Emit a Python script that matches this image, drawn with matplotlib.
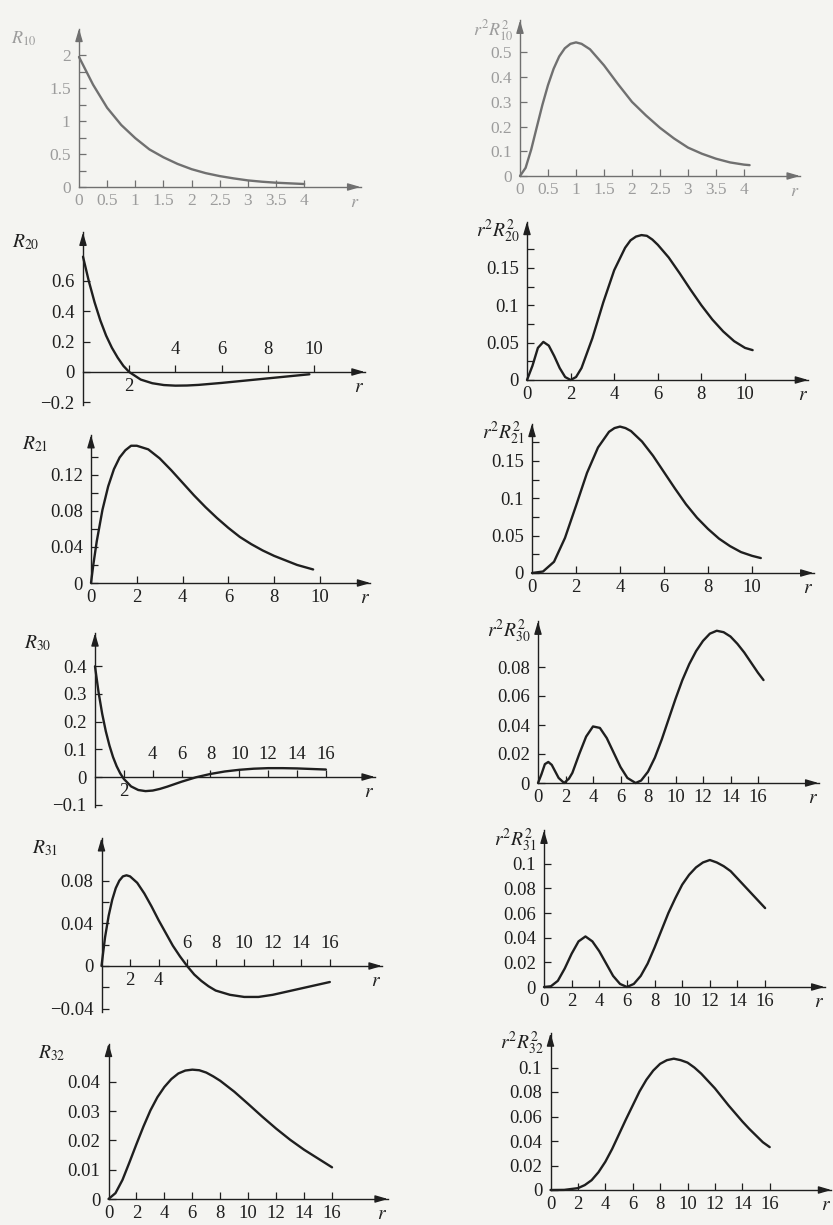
import matplotlib.pyplot as plt

W, H = 833, 1225
BG = '#f4f4f1'
INK = '#1f1f1f'
FADED = '#707070'
FADED_TXT = '#9c9c9c'

plt.rcParams['font.family'] = ['Liberation Serif', 'DejaVu Serif']
plt.rcParams['mathtext.fontset'] = 'stix'

# values
r_10 = [0, 0.25, 0.5, 0.75, 1, 1.25, 1.5, 1.75, 2, 2.25, 2.5, 2.75, 3, 3.25, 3.5, 3.75, 4]
R_10 = [1.97, 1.55, 1.2, 0.94, 0.74, 0.57, 0.45, 0.35, 0.27, 0.21, 0.165, 0.13, 0.1, 0.08, 0.065, 0.055, 0.045]

r_p10 = [0, 0.1, 0.2, 0.3, 0.4, 0.5, 0.6, 0.7, 0.8, 0.9, 1.0, 1.1, 1.25, 1.5, 1.75, 2, 2.25, 2.5,
         2.75, 3, 3.25, 3.5, 3.75, 4, 4.1]
P_10 = [0, 0.033, 0.107, 0.198, 0.288, 0.368, 0.434, 0.484, 0.517, 0.535, 0.541, 0.535, 0.513, 0.448,
        0.372, 0.300, 0.245, 0.195, 0.152, 0.115, 0.090, 0.070, 0.055, 0.046, 0.044]

r_20 = [0, 0.25, 0.5, 0.75, 1, 1.25, 1.5, 1.75, 2, 2.5, 3, 3.5, 4, 4.5, 5, 6, 7, 8, 9, 9.8]
R_20 = [0.76, 0.6, 0.46, 0.34, 0.24, 0.16, 0.095, 0.04, 0.0, -0.05, -0.074, -0.086, -0.09, -0.089,
        -0.085, -0.072, -0.057, -0.042, -0.027, -0.015]

r_p20 = [0, 0.25, 0.5, 0.75, 1, 1.25, 1.5, 1.75, 2, 2.25, 2.5, 3, 3.5, 4, 4.5, 4.75, 5, 5.25, 5.5,
         5.75, 6, 6.5, 7, 7.5, 8, 8.5, 9, 9.5, 10, 10.35]
P_20 = [0, 0.019, 0.043, 0.051, 0.046, 0.032, 0.016, 0.004, 0, 0.004, 0.016, 0.056, 0.104, 0.147,
        0.177, 0.187, 0.192, 0.194, 0.193, 0.188, 0.181, 0.164, 0.143, 0.121, 0.1, 0.081, 0.065,
        0.052, 0.043, 0.04]

r_21 = [0, 0.1, 0.25, 0.5, 0.75, 1, 1.25, 1.5, 1.75, 2, 2.5, 3, 3.5, 4, 4.5, 5, 5.5, 6, 6.5, 7, 7.5,
        8, 8.5, 9, 9.7]
R_21 = [0, 0.02, 0.046, 0.081, 0.107, 0.126, 0.139, 0.147, 0.152, 0.152, 0.148, 0.138, 0.125, 0.111,
        0.097, 0.084, 0.072, 0.061, 0.051, 0.043, 0.036, 0.03, 0.025, 0.02, 0.015]

r_p21 = [0, 0.5, 1, 1.5, 2, 2.5, 3, 3.5, 3.75, 4, 4.25, 4.5, 5, 5.5, 6, 6.5, 7, 7.5, 8, 8.5, 9, 9.5,
         10, 10.4]
P_21 = [0, 0.002, 0.015, 0.047, 0.09, 0.134, 0.168, 0.189, 0.194, 0.196, 0.194, 0.19, 0.176, 0.157,
        0.135, 0.113, 0.092, 0.074, 0.059, 0.046, 0.036, 0.028, 0.023, 0.02]

r_30 = [0, 0.25, 0.5, 0.75, 1, 1.25, 1.5, 1.75, 2, 2.5, 3, 3.5, 4, 4.5, 5, 6, 7, 8, 9, 10, 11, 12,
        13, 14, 15, 16]
R_30 = [0.4, 0.305, 0.228, 0.165, 0.114, 0.072, 0.039, 0.013, -0.007, -0.034, -0.047, -0.051, -0.049,
        -0.043, -0.035, -0.017, -0.001, 0.011, 0.02, 0.026, 0.03, 0.032, 0.032, 0.031, 0.029, 0.027]

r_p30 = [0, 0.25, 0.5, 0.75, 1, 1.25, 1.5, 1.9, 2.25, 2.5, 3, 3.5, 4, 4.5, 5, 5.5, 6, 6.5, 7.1, 7.5,
         8, 8.5, 9, 9.5, 10, 10.5, 11, 11.5, 12, 12.5, 13, 13.5, 14, 14.5, 15, 15.5, 16, 16.4]
P_30 = [0, 0.006, 0.013, 0.0145, 0.0125, 0.008, 0.0035, 0, 0.003, 0.007, 0.02, 0.032, 0.039, 0.038,
        0.031, 0.021, 0.011, 0.0035, 0, 0.0017, 0.0078, 0.0175, 0.03, 0.044, 0.058, 0.071, 0.082,
        0.091, 0.098, 0.103, 0.105, 0.104, 0.101, 0.096, 0.09, 0.083, 0.076, 0.071]

r_31 = [0, 0.25, 0.5, 0.75, 1, 1.25, 1.5, 1.75, 2, 2.5, 3, 3.5, 4, 4.5, 5, 5.5, 6, 6.5, 7, 7.5, 8, 9,
        10, 11, 12, 13, 14, 15, 16]
R_31 = [0, 0.027, 0.047, 0.062, 0.073, 0.08, 0.084, 0.085, 0.084, 0.078, 0.068, 0.056, 0.043, 0.031,
        0.019, 0.009, 0, -0.008, -0.014, -0.019, -0.023, -0.027, -0.029, -0.029, -0.027, -0.024,
        -0.021, -0.018, -0.015]

r_p31 = [0, 0.5, 1, 1.5, 2, 2.5, 3, 3.5, 4, 4.5, 5, 5.5, 6, 6.5, 7, 7.5, 8, 8.5, 9, 9.5, 10, 10.5,
         11, 11.5, 12, 12.5, 13, 13.5, 14, 14.5, 15, 15.5, 16]
P_31 = [0, 0.0006, 0.005, 0.015, 0.027, 0.037, 0.041, 0.037, 0.029, 0.019, 0.009, 0.0025, 0, 0.0025,
        0.009, 0.019, 0.032, 0.046, 0.06, 0.072, 0.083, 0.091, 0.097, 0.101, 0.103, 0.101, 0.098,
        0.094, 0.088, 0.082, 0.076, 0.07, 0.064]

r_32 = [0, 0.5, 1, 1.5, 2, 2.5, 3, 3.5, 4, 4.5, 5, 5.5, 6, 6.5, 7, 7.5, 8, 9, 10, 11, 12, 13, 14, 15, 16]
R_32 = [0, 0.002, 0.0065, 0.0125, 0.0187, 0.0247, 0.0302, 0.0347, 0.0382, 0.0409, 0.0428, 0.0438,
        0.0441, 0.0439, 0.0431, 0.0418, 0.0403, 0.0366, 0.0324, 0.0281, 0.024, 0.0202, 0.0168,
        0.0138, 0.0108]

r_p32 = [0, 1, 2, 2.5, 3, 3.5, 4, 4.5, 5, 5.5, 6, 6.5, 7, 7.5, 8, 8.5, 9, 9.5, 10, 10.5, 11, 11.5,
         12, 12.5, 13, 13.5, 14, 14.5, 15, 15.5, 16]
P_32 = [0, 0.0001, 0.0015, 0.004, 0.008, 0.0145, 0.023, 0.0335, 0.0455, 0.0575, 0.069, 0.0805, 0.09,
        0.0975, 0.103, 0.106, 0.1072, 0.106, 0.104, 0.1, 0.095, 0.089, 0.083, 0.076, 0.069, 0.0625,
        0.056, 0.05, 0.0445, 0.039, 0.035]

# tick values
x_half = [0.5, 1, 1.5, 2, 2.5, 3, 3.5, 4]
x_ten = [2, 4, 6, 8, 10]
x_sixteen = [2, 4, 6, 8, 10, 12, 14, 16]


def fmt(v):
    return '{:g}'.format(v).replace('-', '\u2212')


fig = plt.figure(figsize=(W / 100, H / 100), dpi=100, facecolor=BG)


def panel(ox, oy, sx, sy, xend, ymin, ytop, r, v, ylab, yt, ymin_t, xt, below, above,
          left_col=True, ink=INK, txt=INK, fs=13.5):
    # ox, oy: pixel position of the origin (y measured from top)
    ax = fig.add_axes([ox / W, (H - oy + ymin * sy) / H, xend * sx / W, (ytop - ymin) * sy / H])
    ax.patch.set_alpha(0)
    ax.set_xlim(0, xend)
    ax.set_ylim(ymin, ytop)
    ax.plot(r, v, color=ink, lw=1.7, solid_capstyle='round', solid_joinstyle='round', clip_on=False)

    for s in ['top', 'right']:
        ax.spines[s].set_visible(False)
    ax.spines['left'].set_position(('data', 0))
    ax.spines['bottom'].set_position(('data', 0))
    for s in ['left', 'bottom']:
        ax.spines[s].set_color(ink)
        ax.spines[s].set_linewidth(1.0)

    arrow = dict(arrowstyle='-|>,head_length=0.75,head_width=0.22', color=ink, lw=1.0,
                 shrinkA=0, shrinkB=0)
    ax.annotate('', xy=(xend, 0), xytext=(xend * 0.96, 0), arrowprops=arrow, annotation_clip=False)
    ax.annotate('', xy=(0, ytop), xytext=(0, ytop - (ytop - ymin) * 0.06), arrowprops=arrow,
                annotation_clip=False)

    ax.set_yticks(yt)
    ax.set_yticklabels([fmt(t) for t in yt])
    ax.set_yticks(ymin_t, minor=True)
    ax.set_xticks(xt)
    ax.tick_params(which='both', direction='in', length=5, width=0.9, color=ink,
                   labelcolor=txt, labelsize=fs, pad=6)
    ax.tick_params(axis='x', labelbottom=False)

    for t in below:
        ax.annotate(fmt(t), (t, 0), xytext=(0, -4), textcoords='offset points', ha='center',
                    va='top', fontsize=fs, color=txt, annotation_clip=False)
    for t in above:
        ax.annotate(fmt(t), (t, 0), xytext=(0, 10), textcoords='offset points', ha='center',
                    va='bottom', fontsize=fs, color=txt, annotation_clip=False)

    ax.annotate('$r$', (xend, 0), xytext=(-4, -5), textcoords='offset points', ha='center',
                va='top', fontsize=fs + 0.5, color=txt, annotation_clip=False)
    ax.annotate(ylab, (0, ytop), xytext=(-31 if left_col else -5, -7), textcoords='offset points',
                ha='right', va='center', fontsize=fs + 0.5, color=txt, annotation_clip=False)
    return ax


# row 1 (faded in the scan)
panel(79, 187, 56.3, 66, 5.0, 0, 2.4, r_10, R_10, '$R_{10}$',
      [0, 0.5, 1, 1.5, 2], [0.25, 0.75, 1.25, 1.75], x_half, [0] + x_half, [],
      ink=FADED, txt=FADED_TXT, fs=12.5)
panel(520, 176, 56, 247, 5.0, 0, 0.63, r_p10, P_10, '$r^2R^2_{10}$',
      [0, 0.1, 0.2, 0.3, 0.4, 0.5], [], x_half, [0] + x_half, [],
      left_col=False, ink=FADED, txt=FADED_TXT, fs=12.5)

# row 2
panel(83, 372, 23.1, 151.7, 12.2, -0.22, 0.92, r_20, R_20, '$R_{20}$',
      [-0.2, 0, 0.2, 0.4, 0.6], [], x_ten, [2], [4, 6, 8, 10])
panel(527, 380, 21.8, 747, 12.9, 0, 0.212, r_p20, P_20, '$r^2R^2_{20}$',
      [0, 0.05, 0.1, 0.15], [0.025, 0.075, 0.125, 0.175], x_ten, [0] + x_ten, [],
      left_col=False)

# row 3
panel(91, 583, 22.9, 903, 12.2, 0, 0.164, r_21, R_21, '$R_{21}$',
      [0, 0.04, 0.08, 0.12], [0.02, 0.06, 0.1, 0.14], x_ten, [0] + x_ten, [])
panel(532, 573, 22, 747, 12.8, 0, 0.2, r_p21, P_21, '$r^2R^2_{21}$',
      [0, 0.05, 0.1, 0.15], [0.025, 0.075, 0.125, 0.175], x_ten, [0] + x_ten, [],
      left_col=False)

# row 4
panel(95, 777, 14.43, 276.7, 19.4, -0.11, 0.52, r_30, R_30, '$R_{30}$',
      [-0.1, 0, 0.1, 0.2, 0.3, 0.4], [], x_sixteen, [2], x_sixteen[1:])
panel(538, 783, 13.75, 1450, 20.4, 0, 0.1115, r_p30, P_30, '$r^2R^2_{30}$',
      [0, 0.02, 0.04, 0.06, 0.08], [], x_sixteen, [0] + x_sixteen, [], left_col=False)

# row 5
panel(101.5, 966, 14.27, 1067, 19.65, -0.043, 0.12, r_31, R_31, '$R_{31}$',
      [-0.04, 0, 0.04, 0.08], [-0.02, 0.02, 0.06], x_sixteen, [2, 4], x_sixteen[2:])
panel(544, 987, 13.82, 1233, 20.3, 0, 0.127, r_p31, P_31, '$r^2R^2_{31}$',
      [0, 0.02, 0.04, 0.06, 0.08, 0.1], [], x_sixteen, [0] + x_sixteen, [], left_col=False)

# row 6
panel(108.5, 1199, 13.97, 2933, 20.0, 0, 0.053, r_32, R_32, '$R_{32}$',
      [0, 0.01, 0.02, 0.03, 0.04], [], x_sixteen, [0] + x_sixteen, [])
panel(550.5, 1190, 13.7, 1225, 20.5, 0, 0.128, r_p32, P_32, '$r^2R^2_{32}$',
      [0, 0.02, 0.04, 0.06, 0.08, 0.1], [], x_sixteen, [0] + x_sixteen, [], left_col=False)

fig.savefig('out.png', dpi=100, facecolor=BG)
